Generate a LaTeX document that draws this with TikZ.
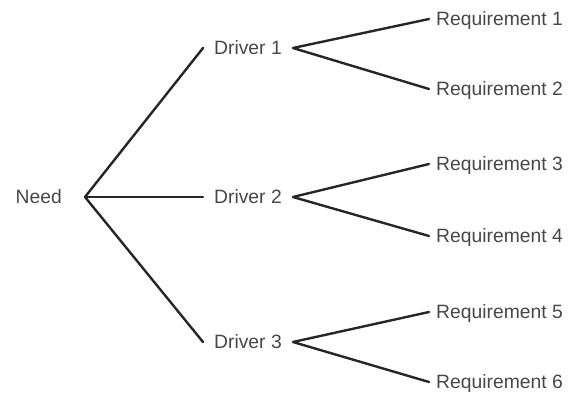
\documentclass[tikz,border=0pt]{standalone}
\usepackage{fontspec}
\setmainfont{Liberation Sans}
\begin{document}
\begin{tikzpicture}[x=1pt,y=-1pt,
  lbl/.style={text=black!72, font=\fontsize{19.3}{21}\selectfont, text height=13.5pt, text depth=0pt, inner ysep=0pt},
  needbox/.style={lbl, anchor=east, inner xsep=23pt},
  drvbox/.style={lbl, anchor=west, inner xsep=11pt},
  reqbox/.style={lbl, anchor=west, inner xsep=7pt},
  conn/.style={draw=black!85, line width=2.4pt, line cap=round, line join=round}]
\useasboundingbox (0,0) rectangle (568,415);
\node[needbox] (need) at (85,197) {Need};
\node[drvbox] (d1) at (203,48) {Driver 1};
\node[drvbox] (d2) at (203,197) {Driver 2};
\node[drvbox] (d3) at (203,342) {Driver 3};
\node[reqbox] (r1) at (429,19) {Requirement 1};
\node[reqbox] (r2) at (429,89) {Requirement 2};
\node[reqbox] (r3) at (429,164) {Requirement 3};
\node[reqbox] (r4) at (429,236) {Requirement 4};
\node[reqbox] (r5) at (429,312) {Requirement 5};
\node[reqbox] (r6) at (429,382) {Requirement 6};
\draw[conn] (d1.west) -- (need.east) -- (d3.west);
\draw[conn] (need.east) -- (d2.west);
\draw[conn] (r1.west) -- (d1.east) -- (r2.west);
\draw[conn] (r3.west) -- (d2.east) -- (r4.west);
\draw[conn] (r5.west) -- (d3.east) -- (r6.west);
\end{tikzpicture}
\end{document}
